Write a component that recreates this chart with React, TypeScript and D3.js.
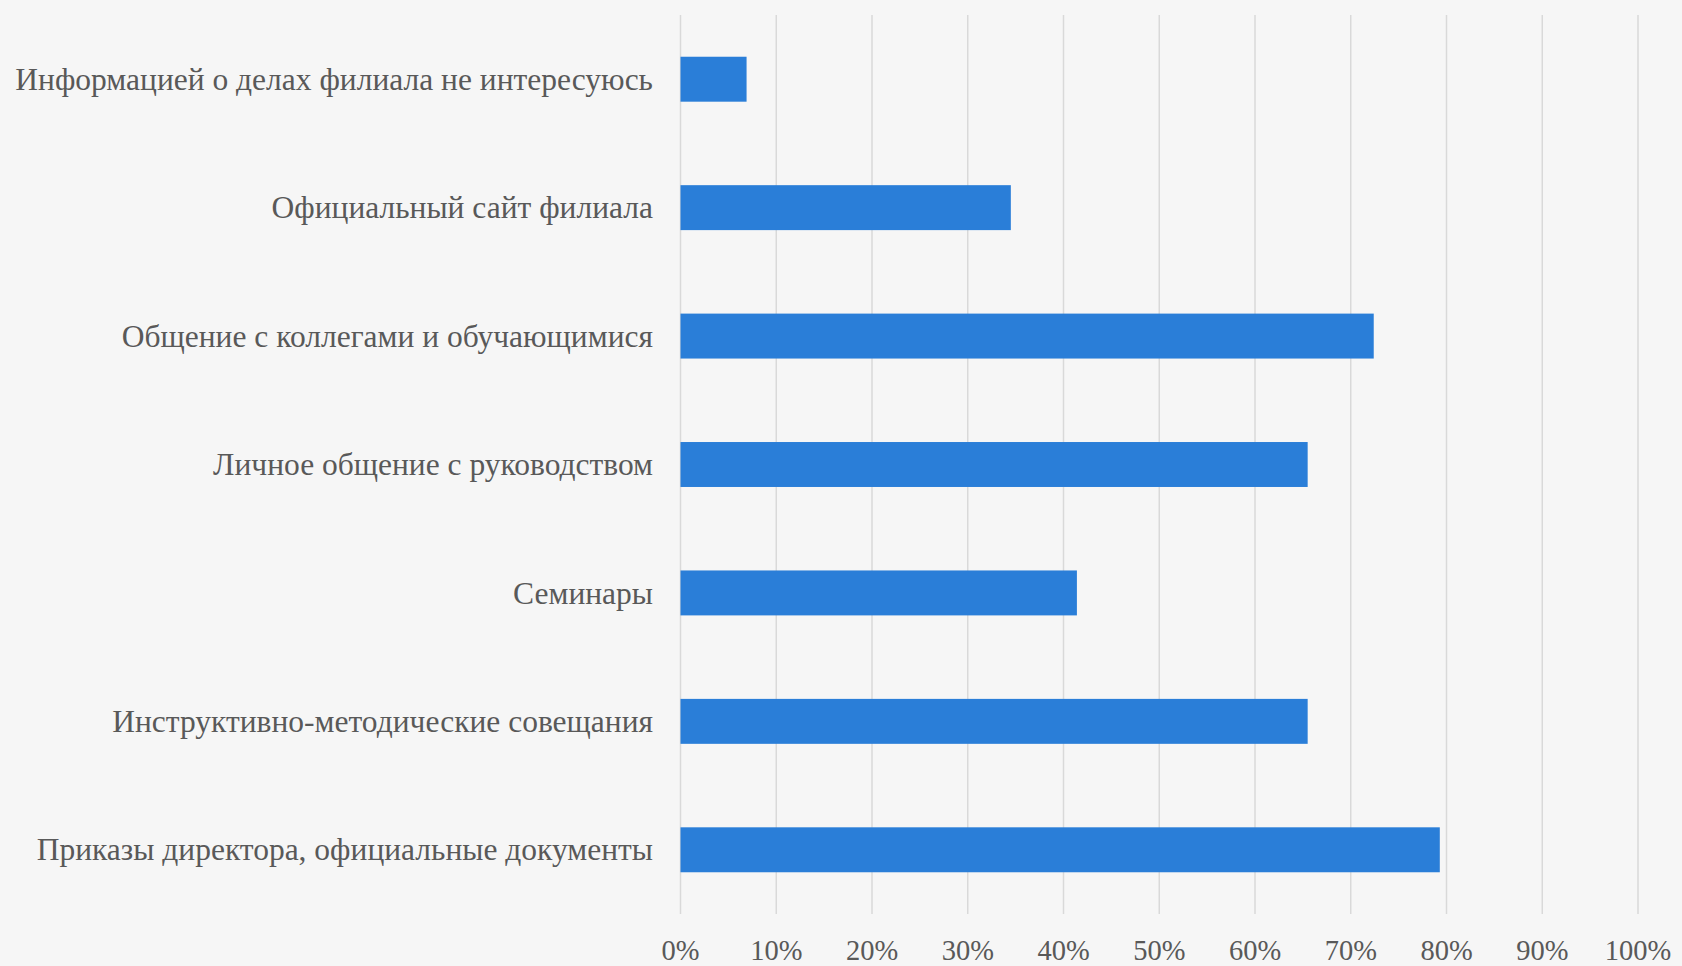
import React from "react";
import * as d3 from "d3";

const categories: string[] = [
  "Информацией о делах филиала не интересуюсь",
  "Официальный сайт филиала",
  "Общение с коллегами и обучающимися",
  "Личное общение с руководством",
  "Семинары",
  "Инструктивно-методические совещания",
  "Приказы директора, официальные документы",
];

const values: number[] = [0.069, 0.345, 0.724, 0.655, 0.414, 0.655, 0.793];

const tickValues: number[] = [0, 0.1, 0.2, 0.3, 0.4, 0.5, 0.6, 0.7, 0.8, 0.9, 1.0];

const W = 1682;
const H = 966;
const FONT = "'Liberation Serif', 'DejaVu Serif', serif";

export default function App() {
  const x = d3.scaleLinear().domain([0, 1]).range([680.5, 1638]);
  const y = d3
    .scaleBand<string>()
    .domain(categories)
    .range([15, 914])
    .paddingInner(0.65)
    .paddingOuter(0.325);
  const fmt = d3.format(".0%");

  return (
    <svg
      width={W}
      height={H}
      style={{ position: "absolute", left: 0, top: 0, display: "block" }}
    >
      <rect x={0} y={0} width={W} height={H} fill="#f6f6f6" />
      {tickValues.map((t) => (
        <line
          key={"g" + t}
          x1={x(t)}
          x2={x(t)}
          y1={15}
          y2={914}
          stroke="#d9d9d9"
          strokeWidth={1.5}
        />
      ))}
      {categories.map((c, i) => (
        <rect
          key={"b" + c}
          x={x(0)}
          y={y(c)!}
          width={x(values[i]) - x(0)}
          height={y.bandwidth()}
          fill="#2a7ed8"
        />
      ))}
      {categories.map((c) => (
        <text
          key={"l" + c}
          x={653}
          y={y(c)! + y.bandwidth() / 2}
          dy="0.34em"
          textAnchor="end"
          fontFamily={FONT}
          fontSize={31.5}
          fill="#595959"
        >
          {c}
        </text>
      ))}
      {tickValues.map((t) => (
        <text
          key={"t" + t}
          x={x(t)}
          y={960}
          textAnchor="middle"
          fontFamily={FONT}
          fontSize={28.5}
          fill="#595959"
        >
          {fmt(t)}
        </text>
      ))}
    </svg>
  );
}
